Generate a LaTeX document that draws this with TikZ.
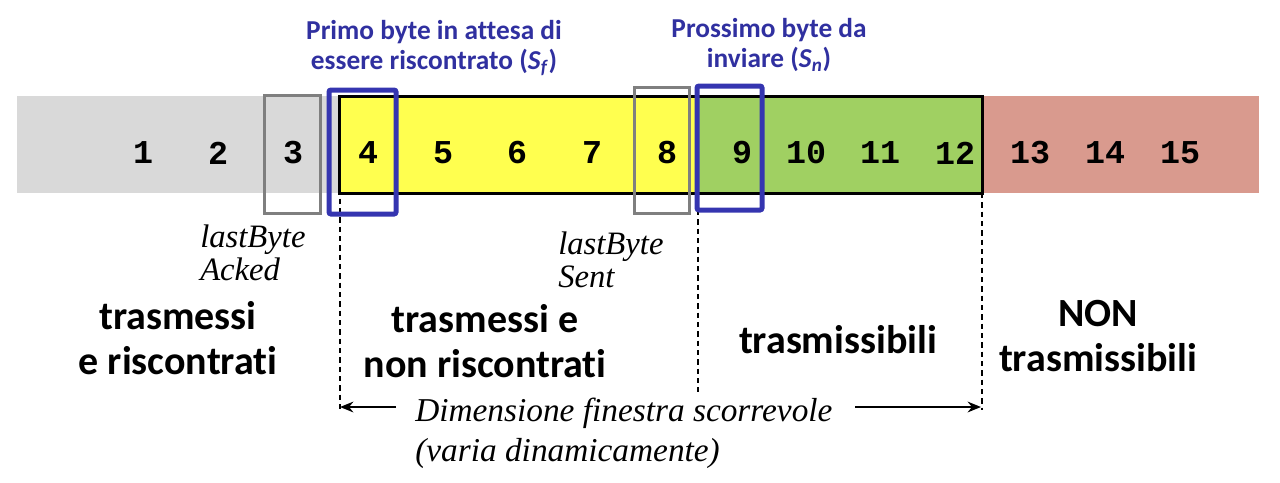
\documentclass[tikz,border=0pt]{standalone}
\usepackage{fontspec}
\setmainfont{Carlito}[Ligatures=NoCommon]
\setmonofont{Liberation Mono}
\newfontfamily\seriffont{Liberation Serif}
\usetikzlibrary{arrows.meta}
\definecolor{ackedgray}{HTML}{D9D9D9}
\definecolor{sentyellow}{HTML}{FFFF4F}
\definecolor{sendgreen}{HTML}{A0D062}
\definecolor{nosendred}{HTML}{D99A8E}
\definecolor{markgray}{HTML}{7F7F7F}
\definecolor{markblue}{HTML}{3535B0}
\definecolor{textblue}{HTML}{3030A0}
\tikzset{
  seqnum/.style={font=\ttfamily\bfseries\fontsize{25}{25}\selectfont, inner sep=0pt},
  bluelabel/.style={font=\bfseries\fontsize{20.5}{22}\selectfont, text=textblue, align=center, inner sep=0pt},
  biglabel/.style={font=\bfseries\fontsize{30}{34}\selectfont, align=center, inner sep=0pt},
  itlabel/.style={font=\seriffont\itshape\fontsize{24.5}{25}\selectfont, align=left, inner sep=0pt},
  graymark/.style={draw=markgray, line width=2.25pt},
  bluemark/.style={draw=markblue, line width=3.75pt, rounded corners=1.5pt},
  winborder/.style={draw=black, line width=2.25pt},
  guide/.style={dash pattern=on 4pt off 3pt, line width=0.8pt},
  sizearrow/.style={line width=1.8pt, -{Stealth[length=10pt,width=8pt]}}
}
\begin{document}
\begin{tikzpicture}[x=0.75pt,y=-0.75pt]
\useasboundingbox (0,0) rectangle (1280,482);
% regions
\fill[ackedgray] (17,96) rectangle (339,193);
\fill[nosendred] (982,96) rectangle (1259,193);
\path[fill=sentyellow, winborder] (339,96) rectangle (697,193);
\path[fill=sendgreen, winborder] (697,96) rectangle (982,193);
% guides
\coordinate (gl) at (340,96);
\coordinate (glb) at (340,410);
\coordinate (gm) at (698,210);
\coordinate (gmb) at (698,392);
\coordinate (gr) at (982,193);
\coordinate (grb) at (982,410);
\draw[guide] (gl) -- (glb);
\draw[guide] (gm) -- (gmb);
\draw[guide] (gr) -- (grb);
% markers
\draw[graymark] (264,95) rectangle (320,213);
\draw[graymark] (634,87) rectangle (689,213);
\draw[bluemark] (329,90) rectangle (396,214);
\draw[bluemark] (697,86) rectangle (762,210);
% numbers
\foreach \n/\xx in {1/143,2/218,3/293,4/368,5/443,6/517,7/592,8/667,9/742,10/806,11/880,12/955,13/1030,14/1105,15/1180}
  \node[seqnum] (n\n) at (\xx,153) {\n};
% top labels
\node[bluelabel] (sf) at (434,48) {Primo byte in attesa di\\essere riscontrato (\textit{S}\textsubscript{\textit{f}})};
\node[bluelabel] (sn) at (769,45) {Prossimo byte da\\inviare (\textit{S}\textsubscript{\textit{n}})};
% pointer labels
\node[itlabel, anchor=west] (lba) at (200,253) {lastByte\\Acked};
\node[itlabel, anchor=west] (lbs) at (558,260) {lastByte\\Sent};
% region labels
\node[biglabel] (r1) at (178,338) {trasmessi\\e riscontrati};
\node[biglabel] (r2) at (485,341) {trasmessi e\\non riscontrati};
\node[biglabel] (r3) at (838,340) {trasmissibili};
\node[biglabel] (r4) at (1098,336) {NON\\trasmissibili};
% window size
\node[itlabel, anchor=west, font=\seriffont\itshape\fontsize{25}{30}\selectfont] (dim) at (415,433) {Dimensione finestra scorrevole\\(varia dinamicamente)};
\coordinate (al) at (340,407);
\coordinate (al0) at (396,407);
\coordinate (ar) at (981,407);
\coordinate (ar0) at (855,407);
\draw[sizearrow] (al0) -- (al);
\draw[sizearrow] (ar0) -- (ar);
\end{tikzpicture}
\end{document}
